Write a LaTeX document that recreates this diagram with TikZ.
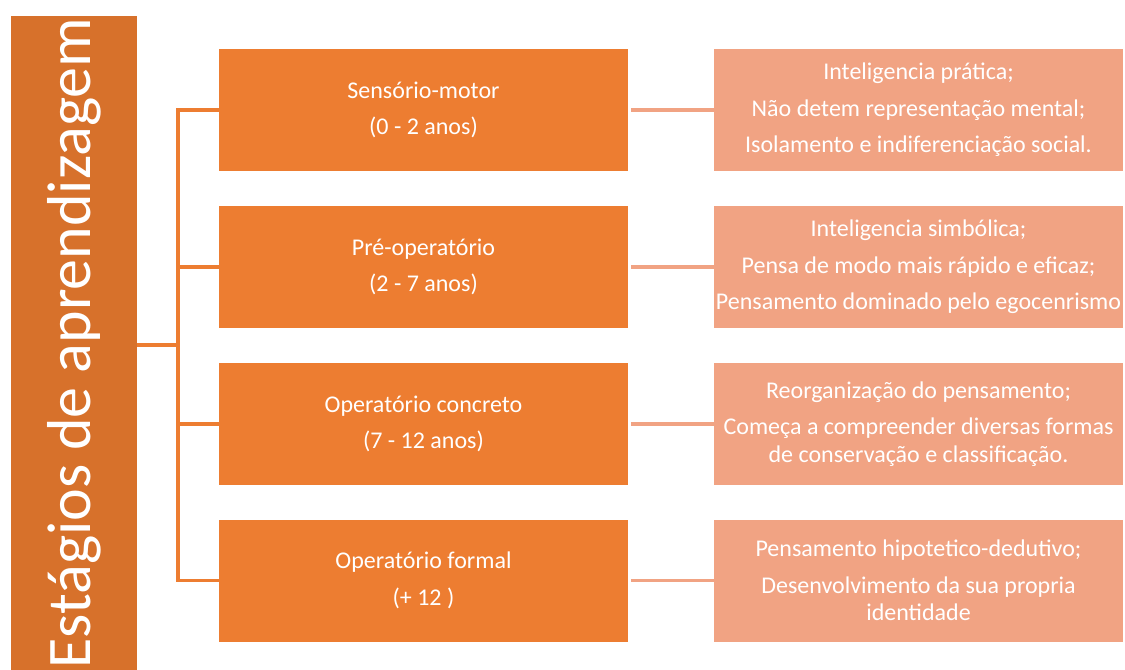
\documentclass[tikz,border=0pt]{standalone}
\usepackage{fontspec}
\setmainfont{Carlito}
\usepackage{xcolor}
\usetikzlibrary{positioning}
\definecolor{barorange}{RGB}{215,113,43}
\definecolor{stageorange}{RGB}{237,125,49}
\definecolor{notesalmon}{RGB}{241,163,131}
\tikzset{
  bar/.style={fill=barorange,text=white,inner sep=0pt,font=\fontsize{46.5}{50}\selectfont},
  stage/.style={fill=stageorange,text=white,inner sep=0pt,align=center,minimum width=306.75pt,minimum height=91.5pt,font=\fontsize{18}{20.5}\selectfont},
  note/.style={stage,fill=notesalmon},
  tree/.style={stageorange,line width=2.5pt},
  link/.style={notesalmon,line width=2.5pt,shorten <=2pt}
}
\newcommand{\gap}{\\[7pt]}

\begin{document}
\begin{tikzpicture}[x=0.75pt,y=-0.75pt]
\useasboundingbox (0,0) rectangle (1125,670);
\node[bar,rotate=90,minimum width=490.5pt,minimum height=94.5pt] (bar) at (74,343) {Estágios de aprendizagem};
\node[stage] (s1) at (423.5,110) {Sensório-motor\gap(0 - 2 anos)};
\node[stage] (s2) at (423.5,267) {Pré-operatório\gap(2 - 7 anos)};
\node[stage] (s3) at (423.5,424) {Operatório concreto\gap(7 - 12 anos)};
\node[stage] (s4) at (423.5,580.5) {Operatório formal\gap(+ 12 )};
\node[note] (n1) at (918.5,110) {Inteligencia prática;\gap Não detem representação mental;\gap Isolamento e indiferenciação social.};
\node[note] (n2) at (918.5,267) {Inteligencia simbólica;\gap Pensa de modo mais rápido e eficaz;\gap Pensamento dominado pelo egocenrismo};
\node[note] (n3) at (918.5,424) {Reorganização do pensamento;\gap Começa a compreender diversas formas\\de conservação e classificação.};
\node[note] (n4) at (918.5,580.5) {Pensamento hipotetico-dedutivo;\gap Desenvolvimento da sua propria\\identidade};
\coordinate (hub) at (178,345);
\draw[tree] (bar.south |- hub) -- (hub);
\draw[tree] (s1.west) -- (hub |- s1.west) -- (hub |- s4.west) -- (s4.west);
\foreach \i in {2,3}
  \draw[tree] (hub |- s\i.west) -- (s\i.west);
\foreach \i in {1,...,4}
  \draw[link] (s\i.east) -- (n\i.west);
\end{tikzpicture}
\end{document}
